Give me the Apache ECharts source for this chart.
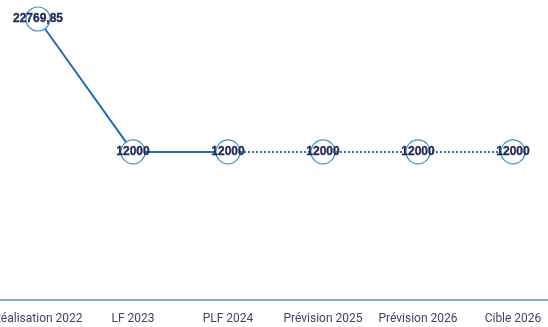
<!DOCTYPE html>
<html><head><meta charset="utf-8">
<script src="https://cdn.jsdelivr.net/npm/echarts@6/dist/echarts.min.js"></script>
<style>html,body{margin:0;padding:0;background:#fff}#c{width:548px;height:327px}</style>
</head><body><div id="c"></div>
<script>
const categories = ["Réalisation 2022", "LF 2023", "PLF 2024", "Prévision 2025", "Prévision 2026", "Cible 2026"];
const solidValues = [22769.85, 12000, 12000, null, null, null];
const dottedValues = [null, null, 12000, 12000, 12000, 12000];
const labelText = ["22769,85", "12000", "12000", "12000", "12000", "12000"];

const chart = echarts.init(document.getElementById('c'));
const common = {
  type: 'line',
  symbol: 'circle',
  symbolSize: 24,
  showSymbol: true,
  connectNulls: false,
  itemStyle: { color: '#ffffff', borderColor: '#3f8ccb', borderWidth: 1.2 },
  label: {
    show: true, position: 'inside',
    color: '#1c2752', fontFamily: 'Liberation Sans, Arial', fontWeight: 'bold', fontSize: 12,
    textBorderColor: '#1c2752', textBorderWidth: 0.3,
    formatter: p => labelText[p.dataIndex]
  },
  labelLayout: { moveOverlap: null, hideOverlap: false },
  z: 3
};
// the dotted continuation starts at the last solid point: skip its duplicate marker there
const dottedData = dottedValues.map((v, i) =>
  (v !== null && solidValues[i] !== null) ? { value: v, symbol: 'none', label: { show: false } } : v);

chart.setOption({
  animation: false,
  grid: { left: -9.5, right: -12.5, top: 19, bottom: 27, containLabel: false, outerBoundsMode: 'none' },
  xAxis: {
    type: 'category', data: categories, boundaryGap: true,
    axisLine: { lineStyle: { color: '#4a93cf', width: 1.5 } },
    axisTick: { show: false },
    axisLabel: { color: '#3c4766', fontFamily: 'Roboto', fontSize: 12, margin: 13, interval: 0, hideOverlap: false }
  },
  yAxis: {
    type: 'value', min: 0, max: 22769.85, show: false,
    splitLine: { show: false }
  },
  series: [
    Object.assign({}, common, { data: solidValues, lineStyle: { color: '#1f6db3', width: 2 } }),
    Object.assign({}, common, { data: dottedData, lineStyle: { color: '#2a78c0', width: 2, type: [2, 2] }, z: 2 })
  ]
});
</script></body></html>
